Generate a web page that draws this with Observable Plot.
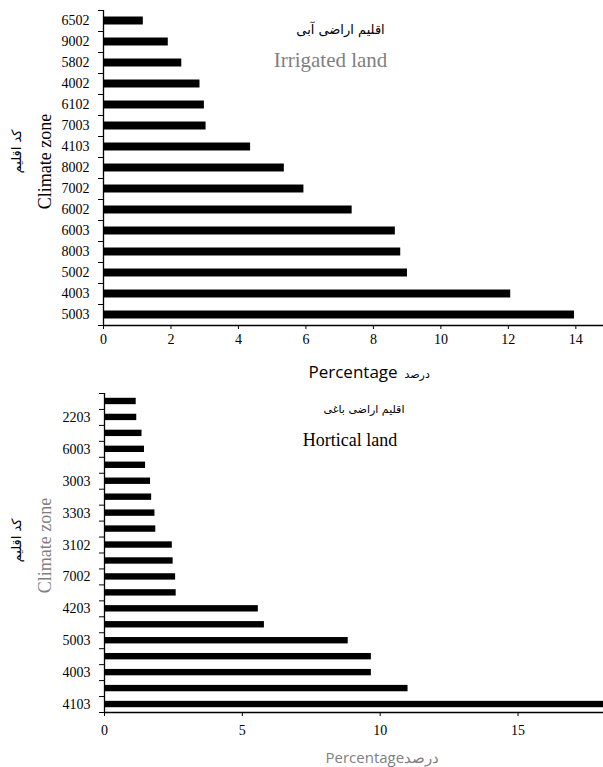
<!DOCTYPE html>
<html>
<head>
<meta charset="utf-8">
<script src="https://cdn.jsdelivr.net/npm/d3@7"></script>
<script src="https://cdn.jsdelivr.net/npm/@observablehq/plot@0.6"></script>
<style>
  html, body { margin: 0; padding: 0; background: #fff; }
  #chart svg { display: block; }
</style>
</head>
<body>
<div id="chart"></div>
<script>
// ---- Top chart: Irrigated land ----
const irrigatedZones = ["6502","9002","5802","4002","6102","7003","4103","8002","7002","6002","6003","8003","5002","4003","5003"];
const irrigatedValues = [1.18, 1.92, 2.32, 2.86, 2.99, 3.04, 4.36, 5.36, 5.94, 7.37, 8.65, 8.81, 9.01, 12.07, 13.96];
const irrigatedTicks = [0, 2, 4, 6, 8, 10, 12, 14];

// ---- Bottom chart: Hortical land (unlabelled bars have null labels) ----
const horticalZones = [null,"2203",null,"6003",null,"3003",null,"3303",null,"3102",null,"7002",null,"4203",null,"5003",null,"4003",null,"4103"];
const horticalValues = [1.15, 1.17, 1.36, 1.45, 1.49, 1.67, 1.71, 1.83, 1.86, 2.46, 2.49, 2.58, 2.60, 5.58, 5.80, 8.84, 9.68, 9.68, 11.01, 18.3];
const horticalTicks = [0, 5, 10, 15];

const W = 603;
const serif = "'Liberation Serif', 'Times New Roman', serif";
const arabic = "'DejaVu Sans', sans-serif";
const sans = "'Open Sans', 'Liberation Sans', sans-serif";

function hbar(o) {
  const {zones, values, xTicks, xMax, height, marginTop, marginBottom, marginLeft, pad, xTickPadding} = o;
  const data = values.map((v, i) => ({i, zone: zones[i], value: v}));
  const n = values.length;
  const boundaries = d3.range(n + 1).map(k => k - 0.5);
  const labelled = data.filter(d => d.zone);
  return Plot.plot({
    width: W,
    height,
    marginTop, marginBottom, marginLeft, marginRight: 0,
    style: {fontFamily: serif, fontSize: "14px", color: "#000", background: "#fff", overflow: "visible"},
    x: {domain: [0, xMax]},
    y: {domain: [-0.5, n - 0.5], reverse: true},
    marks: [
      Plot.rectX(data, {x1: 0, x2: d => Math.min(d.value, xMax), y1: d => d.i - pad, y2: d => d.i + pad, fill: "#000"}),
      Plot.ruleY([n - 0.5], {stroke: "#000", strokeWidth: 1.3}),
      Plot.ruleX([0], {stroke: "#000", strokeWidth: 1.3}),
      Plot.axisY({ticks: boundaries, tickFormat: () => "", tickSize: 5, stroke: "#000", label: null}),
      Plot.axisY({ticks: labelled.map(d => d.i), tickFormat: i => zones[i], tickSize: 0, tickPadding: 14, fill: "#000", label: null}),
      Plot.axisX({ticks: xTicks, tickSize: 4, tickPadding: xTickPadding, label: null, fill: "#000"}),
      Plot.text([0], {frameAnchor: "left", text: () => "Climate zone", rotate: -90, textAnchor: "middle", dx: 45 - marginLeft, dy: o.yTitleDy,
        fill: o.yTitleColor, fontSize: 18, fontFamily: serif}),
      Plot.text([0], {frameAnchor: "left", text: () => "کد اقلیم", rotate: -90, textAnchor: "middle", dx: 16 - marginLeft, dy: o.yFaDy,
        fill: "#000", fontSize: 13, fontFamily: arabic}),
      Plot.text([0], {frameAnchor: "top", text: () => o.titleFa, dx: o.titleFaDx, dy: o.titleFaDy, fill: "#000", fontSize: o.titleFaSize, fontFamily: arabic}),
      Plot.text([0], {frameAnchor: "top", text: () => o.titleEn, dx: o.titleDx, dy: o.titleEnDy, fill: o.titleColor, fontSize: o.titleEnSize, fontFamily: serif}),
      Plot.text([0], {frameAnchor: "bottom", text: () => o.xTitle, textAnchor: "start", dx: o.xTitleX - marginLeft - (W - marginLeft) / 2, dy: o.xTitleDy,
        fill: o.xTitleColor, fontSize: o.xTitleSize, fontFamily: sans}),
      ...(o.xTitleFa ? [Plot.text([0], {frameAnchor: "bottom", text: () => o.xTitleFa, textAnchor: "start", dx: o.xTitleFaX - marginLeft - (W - marginLeft) / 2, dy: o.xTitleDy,
        fill: o.xTitleColor, fontSize: 11, fontFamily: arabic})] : [])
    ]
  });
}

const chartTop = hbar({
  zones: irrigatedZones, values: irrigatedValues, xTicks: irrigatedTicks, xMax: 14.82,
  height: 383, marginTop: 10, marginBottom: 58, marginLeft: 103, pad: 0.19, xTickPadding: 5,
  titleFa: "اقلیم اراضی آبی", titleFaSize: 13, titleEn: "Irrigated land", titleColor: "#7f7f7f",
  titleDx: -23, titleFaDx: -13, titleFaDy: 14, titleEnDy: 42, titleEnSize: 21,
  yTitleColor: "#000", yTitleDy: -6.5, yFaDy: -16.5,
  xTitle: "Percentage", xTitleFa: "درصد", xTitleX: 308, xTitleFaX: 404, xTitleColor: "#000", xTitleDy: 52, xTitleSize: 17
});

const chartBottom = hbar({
  zones: horticalZones, values: horticalValues, xTicks: horticalTicks, xMax: 18.1,
  height: 384, marginTop: 10, marginBottom: 55, marginLeft: 104, pad: 0.2, xTickPadding: 9,
  titleFa: "اقلیم اراضی باغی", titleFaSize: 11, titleEn: "Hortical land", titleColor: "#000",
  titleDx: -4, titleFaDx: 10, titleFaDy: 12, titleEnDy: 40, titleEnSize: 18,
  yTitleColor: "#7f7f7f", yTitleDy: -7.5, yFaDy: -12.5,
  xTitle: "Percentageدرصد", xTitleX: 325, xTitleColor: "#7f7f7f", xTitleDy: 50, xTitleSize: 15
});

document.getElementById("chart").append(chartTop, chartBottom);
</script>
</body>
</html>
